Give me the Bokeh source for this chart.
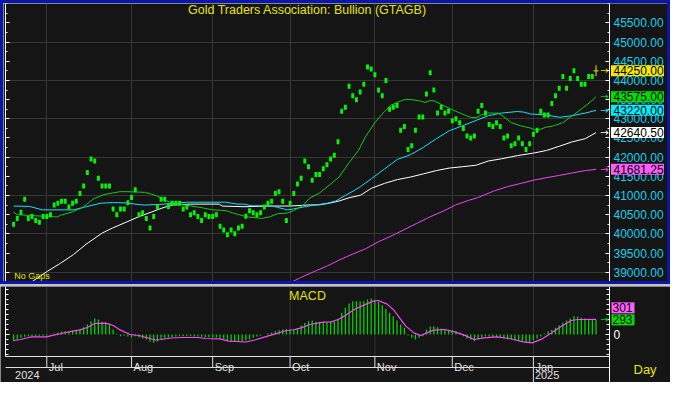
from bokeh.plotting import figure
from bokeh.layouts import column, row
from bokeh.models import Range1d, FixedTicker, LinearAxis, Grid, Div, PrintfTickFormatter
from bokeh.core.properties import value
from bokeh.embed import file_html
from bokeh.resources import INLINE

# ---------------- data ----------------
price = [
    40250, 40400, 40560, 40900, 40400, 40450, 40350, 40300, 40450, 40450,
    40500, 40750, 40800, 40850, 40850, 40700, 40800, 40850, 41050, 41250,
    41600, 41950, 41900, 41450, 41250, 41250, 41250, 40650, 40500, 40650,
    40650, 40810, 40950, 41150, 40500, 40550, 40400, 40150, 40450, 40700,
    40900, 40900, 40710, 40800, 40800, 40800, 40650, 40700, 40500, 40550,
    40450, 40350, 40500, 40450, 40450, 40500, 40200, 40100, 39975, 40100,
    40000, 40150, 40200, 40460, 40600, 40550, 40500, 40550, 40700, 40800,
    40850, 41050, 41100, 40850, 40350, 40800, 41050, 41300, 41450, 41900,
    41750, 41400, 41550, 41550, 41700, 41800, 41950, 42050, 42400, 43200,
    43300, 43850, 43600, 43500, 43700, 43900, 44350, 44300, 44150, 43750,
    43600, 44000, 43250, 43300, 43350, 42700, 42800, 42200, 42300, 42700,
    43050, 43050, 43650, 44200, 43750, 43150, 43300, 43150, 43200, 42950,
    43000, 42900, 42750, 42550, 42500, 42550, 43200, 43350, 43150, 42850,
    42800, 42900, 42800, 42500, 42550, 42300, 42350, 42500, 42350, 42200,
    42350, 42600, 42700, 43200, 43100, 43100, 43400, 43600, 43800, 44100,
    43800, 44050, 44250, 44050, 43900, 43900, 44100, 44100, 44250,
]
days = list(range(len(price)))

green_x = [0, 1, 3.9, 8.3, 11.8, 12.7, 16.2, 18.8, 21.5, 24.5, 26.8, 28.9, 30.8, 35.5, 37.3, 39,
           40.8, 42.6, 44.3, 47.9, 51.4, 54, 57.5, 59.3, 61.1, 62.5, 63.7, 66.3, 67.2, 69.4, 71.6,
           74.2, 76, 78.6, 80.4, 83, 85.7, 88.3, 91, 93.6, 95.4, 98, 100.6, 102.4, 105.9, 108.1,
           110.3, 111.6, 112.9, 114.2, 116.4, 119.1, 121.7, 123.9, 125.5, 127, 128.4, 131.4, 132.8,
           135, 137.6, 140.3, 142, 144.2, 146.4, 149, 151.6, 154.3, 156.5, 158]
green_y = [40565, 40500, 40482, 40457, 40440, 40482, 40582, 40690, 40900, 41025, 41065, 41100, 41100,
           41082, 41040, 40982, 40900, 40815, 40775, 40732, 40675, 40625, 40607, 40550, 40500, 40465,
           40440, 40415, 40400, 40440, 40525, 40540, 40607, 40750, 40940, 41065, 41275, 41482, 41857,
           42180, 42525, 42900, 43190, 43357, 43500, 43500, 43465, 43425, 43475, 43465, 43357, 43232,
           43125, 43040, 43030, 43107, 43150, 43150, 43065, 42900, 42815, 42757, 42690, 42775, 42815,
           42900, 43082, 43275, 43440, 43575]

cyan_x = [0, 4.3, 7.8, 16.2, 19.7, 23.7, 26.8, 30.8, 32.9, 35.5, 40.8, 43.5, 47, 57.5, 60.6, 62.5,
          64.6, 69.8, 71.6, 74.2, 76, 79.5, 82.2, 84.8, 87.4, 90.1, 92.3, 94.1, 97.1, 100.6, 104.1,
          107.7, 111.2, 114.7, 118.2, 121.7, 125.5, 128.8, 132.4, 136.7, 138.4, 140.2, 143.8, 148.2,
          151.6, 155.1, 158]
cyan_y = [40725, 40715, 40625, 40625, 40707, 40800, 40815, 40807, 40775, 40750, 40775, 40800, 40825,
          40825, 40775, 40775, 40732, 40732, 40690, 40625, 40650, 40715, 40757, 40790, 40857, 41007,
          41125, 41232, 41440, 41690, 41940, 42065, 42257, 42482, 42690, 42815, 42960, 43082, 43150,
          43190, 43175, 43125, 43107, 43040, 43082, 43150, 43220]

white_x = [4.7, 9.2, 12.7, 16.2, 19.7, 24.1, 26.8, 30.8, 33.8, 37.3, 40.8, 43.5, 47.9, 55.8, 56.6,
           62.5, 69, 75.1, 79.5, 83, 85.7, 88.3, 91, 94.1, 97.1, 100.6, 104.1, 107.7, 111.2, 114.7,
           118.2, 121.7, 125.5, 128.8, 132.4, 136.7, 141.1, 144.6, 148.2, 151.6, 155.1, 158]
white_y = [38732, 39025, 39232, 39457, 39732, 40025, 40150, 40315, 40440, 40565, 40690, 40757, 40775,
           40775, 40725, 40707, 40725, 40725, 40750, 40757, 40800, 40857, 40940, 41007, 41190, 41315,
           41415, 41482, 41565, 41650, 41715, 41750, 41790, 41900, 41957, 42040, 42107, 42175, 42290,
           42400, 42482, 42640.5]

magenta_x = [74.7, 77.8, 81.3, 84.8, 88.3, 91.8, 95.4, 98.9, 102.4, 105.9, 109.4, 112.9, 116.5, 120,
             123.5, 125.8, 130.5, 134, 137.6, 141.1, 144.6, 148.1, 151.6, 155.1, 158]
magenta_y = [38707, 38857, 39007, 39150, 39315, 39465, 39607, 39790, 39940, 40107, 40275, 40440,
             40590, 40757, 40875, 40940, 41125, 41232, 41315, 41400, 41465, 41525, 41590, 41650, 41681.25]

macd = [
    -133, -100, -67, -47, -33, -33, -33, -27, -27, -20,
    7, 20, 40, 60, 67, 60, 73, 87, 107, 147,
    200, 267, 320, 300, 253, 233, 213, 100, 13, -33,
    -20, -40, -53, -33, -60, -80, -100, -140, -167, -140,
    -100, -80, -60, -50, -40, -33, -33, -33, -33, -40,
    -40, -47, -53, -53, -60, -60, -67, -87, -120, -133,
    -140, -147, -140, -120, -100, -67, -40, -20, 0, 20,
    40, 67, 87, 100, 107, 100, 93, 130, 180, 230,
    267, 280, 253, 253, 247, 247, 253, 253, 300, 433,
    533, 620, 667, 667, 667, 667, 700, 720, 687, 653,
    587, 513, 433, 367, 280, 200, 133, -20, -67, -100,
    -67, -33, 100, 160, 167, 147, 120, 100, 93, 87,
    67, 33, -33, -80, -100, -133, -100, -60, -40, -40,
    -47, -53, -67, -80, -100, -100, -120, -133, -147, -160,
    -167, -120, -80, -40, 20, 67, 93, 133, 187, 233,
    280, 320, 367, 360, 333, 320, 300, 293, 293,
]
signal_x = [0, 2, 4, 5, 9, 10, 13, 16, 18, 20, 22, 25, 27, 29, 31.6, 34, 36, 38.5, 40, 42.6, 46, 50,
            52, 56, 58.4, 63, 65.4, 68, 71, 74, 76, 78, 80.4, 84, 86.2, 88, 89.7, 92.4, 95, 97.6,
            98.9, 101.2, 103, 104.7, 106.4, 108.6, 110.4, 112.1, 113.9, 117, 119.6, 122.3, 124.9,
            127.6, 131.1, 134.6, 138.2, 140.7, 143.4, 146, 148.6, 151.3, 153, 158]
signal_y = [-120, -100, -60, -47, -47, -27, 20, 67, 93, 140, 220, 227, 180, 87, 0, -20, -60, -110,
            -100, -70, -60, -60, -80, -87, -133, -150, -110, -53, 13, 80, 95, 133, 200, 247, 253,
            300, 367, 500, 587, 667, 680, 613, 500, 333, 167, 33, -20, 33, 87, 100, 53, -13, -100,
            -67, -47, -80, -147, -167, -87, 33, 167, 280, 300, 301]

month_idx = [9, 32, 54, 75, 98, 119, 141]
month_labels = ["Jul", "Aug", "Sep", "Oct", "Nov", "Dec", "Jan"]
year_idx = [0, 141]
year_labels = ["2024", "2025"]

price_ticks = list(range(39000, 46000, 500))
price_minor = list(range(38750, 46250, 250))
price_grid = list(range(39000, 46000, 1000))
last_values = [44250.00, 43575.00, 43220.00, 42640.50, 41681.25]
last_texts = [f"{v:.2f}" for v in last_values]
macd_last = [301, 293]
macd_minor = list(range(-400, 1000, 100))

title_text = "Gold Traders Association: Bullion (GTAGB)"

# ---------------- styles ----------------
BG = "#151515"
GRID = "#363636"
BLUE = "#0a16aa"
YEL = "#e6e600"
AXT = "#14cfee"
PT = "#08f008"
LINE_COLS = ["#14c814", "#12e2f8", "#ffffff", "#f044f0"]
BOX_COLS = ["#f6e800", "#00e000", "#00f0ff", "#ffffff", "#ff5cff"]
ARROW_COLS = [YEL, "#14c814", "#12e2f8", "#ffffff", "#f044f0"]
BAND = "#e0e0e0"
FONT = "Liberation Sans"
TOP = "annotation"

# geometry: data region [A, B] drawn over 604 px in both panels
A, B = -2.2, 161.65
K = 604.0 / (B - A)          # px per day
PW, QW = 664, 670
P_LEFT, Q_LEFT = 2, 5        # px from figure edge to data region
PY0, PY1 = 38757, 46007
px = lambda n: n / K         # pixels -> days

# ---------------- price panel ----------------
p = figure(width=PW, height=278,
           x_range=Range1d(A - px(P_LEFT), A + px(PW - P_LEFT)), y_range=Range1d(PY0, PY1),
           x_axis_type=None, y_axis_type=None, output_backend="svg", toolbar_location=None,
           min_border=0, background_fill_color=BG, border_fill_color=BG, outline_line_color=None)
p.add_layout(Grid(dimension=1, ticker=FixedTicker(ticks=price_grid), grid_line_color=GRID))
p.add_layout(Grid(dimension=0, ticker=FixedTicker(ticks=month_idx), grid_line_color=GRID))
# dark mask over the axis-label column (hides grid lines there)
p.quad(left=[B], right=[A + px(PW)], bottom=[PY0], top=[PY1], fill_color=BG, line_color=None)

ry = LinearAxis(ticker=FixedTicker(ticks=price_ticks, minor_ticks=price_minor),
                formatter=PrintfTickFormatter(format="%.2f"), fixed_location=B,
                axis_line_color="white", major_tick_line_color="white", minor_tick_line_color="white",
                major_tick_in=4, major_tick_out=0, minor_tick_in=2, minor_tick_out=0,
                major_label_standoff=4, major_label_text_color=AXT,
                major_label_text_font=FONT, major_label_text_font_size="12px")
p.add_layout(ry, "right")
ly = LinearAxis(ticker=FixedTicker(ticks=price_ticks, minor_ticks=price_minor), fixed_location=A,
                major_label_overrides={t: "" for t in price_ticks},
                axis_line_color="white", major_tick_line_color="white", minor_tick_line_color="white",
                major_tick_in=4, major_tick_out=0, minor_tick_in=2, minor_tick_out=0,
                major_label_standoff=0, major_label_text_font_size="0px")
p.add_layout(ly, "left")

p.line(magenta_x, magenta_y, line_color=LINE_COLS[3], line_width=1)
p.line(white_x, white_y, line_color=LINE_COLS[2], line_width=1)
p.line(cyan_x, cyan_y, line_color=LINE_COLS[1], line_width=1)
p.line(green_x, green_y, line_color=LINE_COLS[0], line_width=1)

p.rect(x=days[:-1], y=price[:-1], width=0.8, height=5, height_units="screen",
       fill_color=PT, line_color=None)
p.rect(x=days[-1:], y=price[-1:], width=1, width_units="screen", height=11, height_units="screen",
       fill_color=YEL, line_color=None)
p.scatter(x=days[-1:], y=price[-1:], marker="dash", size=5, line_color=YEL)

n_l = len(last_values)
p.text(x=[B - px(5)] * n_l, y=last_values, text=["\u2192"] * n_l, text_color=ARROW_COLS,
       text_font=value("DejaVu Sans"), text_font_size="10px", text_align="center",
       text_baseline="middle", level=TOP)
p.rect(x=[B + px(1.5 + 26.5)] * n_l, y=last_values, width=53, width_units="screen",
       height=11, height_units="screen", fill_color=BOX_COLS, line_color=None, level=TOP)
p.text(x=[B] * n_l, y=last_values, text=last_texts, x_offset=4, text_color="#000000",
       text_font=value(FONT), text_font_size="12px", text_baseline="middle", level=TOP)

p.text(x=[(A + B) / 2], y=[45830], text=[title_text], text_align="center", text_baseline="middle",
       text_color=YEL, text_font=value(FONT), text_font_size="12.5px")
p.text(x=[0.2], y=[PY0], y_offset=-1, text=["No Gaps"], text_baseline="bottom",
       text_color=YEL, text_font=value(FONT), text_font_size="9px")

# ---------------- MACD panel + date band ----------------
q = figure(width=QW, height=96,
           x_range=Range1d(A - px(Q_LEFT), A + px(QW - Q_LEFT)), y_range=Range1d(-960, 960),
           x_axis_type=None, y_axis_type=None, output_backend="svg", toolbar_location=None,
           min_border=0, background_fill_color=BG, border_fill_color=BG, outline_line_color=None)
n_m = len(month_idx)
q.segment(x0=month_idx, y0=[-440] * n_m, x1=month_idx, y1=[960] * n_m, line_color=GRID)
q.vbar(x=days, top=macd, bottom=0, width=0.35, fill_color="#00d400", line_color=None)
q.line(signal_x, signal_y, line_color="#ff44ff", line_width=1.2)

q.segment(x0=[A, A], y0=[-440, -660], x1=[B, B], y1=[-440, -660], line_color=BAND)
q.segment(x0=month_idx, y0=[-440] * n_m, x1=month_idx, y1=[-660] * n_m, line_color=BAND)
q.segment(x0=year_idx[1:], y0=[-660], x1=year_idx[1:], y1=[-960], line_color=BAND)
q.text(x=month_idx, y=[-652] * n_m, text=month_labels, x_offset=2,
       text_font=value(FONT), text_font_size="11px", text_color=BAND, text_baseline="alphabetic")
q.text(x=year_idx, y=[-805] * 2, text=year_labels, x_offset=1.5,
       text_font=value(FONT), text_font_size="11px", text_color=BAND, text_baseline="middle")

rq = LinearAxis(ticker=FixedTicker(ticks=[0], minor_ticks=macd_minor), fixed_location=B,
                axis_line_color="white", major_tick_line_color="white", minor_tick_line_color="white",
                major_tick_in=4, major_tick_out=0, minor_tick_in=3, minor_tick_out=0,
                major_label_standoff=4, major_label_text_color="white",
                major_label_text_font=FONT, major_label_text_font_size="12px")
q.add_layout(rq, "right")
lq = LinearAxis(ticker=FixedTicker(ticks=[0], minor_ticks=macd_minor), bounds=(-440, 960),
                fixed_location=A, major_label_overrides={0: ""},
                axis_line_color="white", major_tick_line_color="white", minor_tick_line_color="white",
                major_tick_in=4, major_tick_out=0, minor_tick_in=3, minor_tick_out=0,
                major_label_standoff=0, major_label_text_font_size="0px")
q.add_layout(lq, "left")

q.text(x=[(A + B) / 2], y=[770], text=["MACD"], text_align="center", text_baseline="middle",
       text_color=YEL, text_font=value(FONT), text_font_size="12.5px")
q.text(x=[B - px(5)], y=[macd_last[1]], text=["\u2192"], text_color="#00d400",
       text_font=value("DejaVu Sans"), text_font_size="10px", text_align="center",
       text_baseline="middle", level=TOP)
macd_box_y = [macd_last[1] + 240, macd_last[1]]
q.rect(x=[B + px(2 + 11.5)] * 2, y=macd_box_y, width=23, width_units="screen",
       height=11, height_units="screen", fill_color=["#ff5cff", "#00e000"], line_color=None,
       level=TOP)
q.text(x=[B] * 2, y=macd_box_y, text=[str(v) for v in macd_last], x_offset=3,
       text_color="#000000", text_font=value(FONT), text_font_size="12px", text_baseline="middle",
       level=TOP)
q.text(x=[B], y=[-700], text=["Day"], x_offset=24, text_baseline="middle", text_color=YEL,
       text_font=value(FONT), text_font_size="13px")

# ---------------- frame & layout ----------------
def strip(w, h, color):
    return Div(text="", width=w, height=h, margin=0, styles={"background-color": color})

price_block = row(strip(3, 284, BLUE),
                  column(strip(PW, 3, BLUE), p, strip(PW, 3, BLUE), spacing=0),
                  strip(3, 284, BLUE), spacing=0)
layout = column(price_block, strip(QW, 2, "#c4c4c4"), q, spacing=0)

open("out.html", "w").write(file_html(layout, INLINE))
